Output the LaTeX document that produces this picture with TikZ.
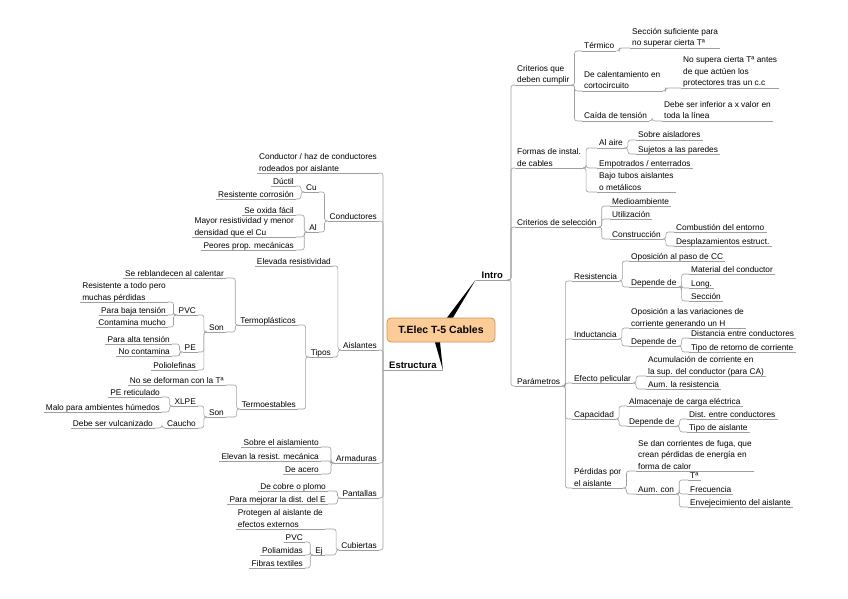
\documentclass[tikz,border=0pt]{standalone}
\usepackage{fontspec}
\setmainfont{Liberation Sans}
\usepackage{xcolor}
\usepackage{tikz}
\usetikzlibrary{calc,positioning}
\definecolor{linegray}{RGB}{158,158,158}
\definecolor{rootFill}{RGB}{252,204,152}
\definecolor{rootEdge}{RGB}{208,146,82}

\tikzset{
  link/.style={draw=linegray, line width=0.6pt, rounded corners=2.5pt},
  toright/.style={link, to path={-- ++(#1,0) |- (\tikztotarget)}},
  toright/.default=3pt,
  toleft/.style={link, to path={-- ++(-#1,0) |- (\tikztotarget)}},
  toleft/.default=3pt,
  trunk/.style={link, to path={|- (\tikztotarget)}},
  topic/.style={font=\fontsize{8.3}{11.5}\selectfont, align=left,
    inner xsep=2pt, inner ysep=1pt, text depth=0.8pt,
    append after command={(\tikzlastnode.south west) edge[link] (\tikzlastnode.south east)}},
  rtopic/.style={topic, anchor=south west},
  ltopic/.style={topic, anchor=south east},
  branch/.style={topic, font=\fontsize{9.5}{11}\selectfont\bfseries, inner xsep=6pt},
  rootbox/.style={draw=rootEdge, fill=rootFill, rounded corners=4pt, line width=0.8pt,
    minimum width=108pt, minimum height=24pt, font=\fontsize{10.5}{12}\selectfont\bfseries},
}

\begin{document}
\begin{tikzpicture}[x=1pt,y=-1pt]
\useasboundingbox (0,0) rectangle (848,599);

% =========================
% 0. root
% =========================
\node[rootbox] (root) at (441,330) {T.Elec T-5 Cables};
\node[branch, anchor=south east] (intro) at (509,280) {Intro};
\node[branch, anchor=south west] (estr) at (383,370) {Estructura};

% thick tapered links
\fill[black] ($(root.north)+(6,0)$) -- (intro.south west) -- ($(root.north)+(12,0)$) -- cycle;
\fill[black] ($(root.south)+(-6,0)$) -- (estr.south east) -- ($(root.south)+(-1,0)$) -- cycle;

% =========================
% 1. intro
% =========================
\node[rtopic] (crit) at (515,85) {Criterios que\\deben cumplir};
\node[rtopic] (termico) at (582,51) {Térmico};
\node[rtopic] (calent) at (582,91) {De calentamiento en\\cortocircuito};
\node[rtopic] (caida) at (582,121) {Caída de tensión};
\node[rtopic] (seccion) at (630,48) {Sección suficiente para\\no superar cierta Tª};
\node[rtopic] (nosupera) at (681,88) {No supera cierta Tª antes\\de que actúen los\\protectores tras un c.c};
\node[rtopic] (inferior) at (662,121) {Debe ser inferior a x valor en\\toda la línea};

\node[rtopic] (formas) at (515,168) {Formas de instal.\\de cables};
\node[rtopic] (alaire) at (597,148) {Al aire};
\node[rtopic] (sobre) at (636,140) {Sobre aisladores};
\node[rtopic] (sujetos) at (636,154) {Sujetos a las paredes};
\node[rtopic] (empot) at (597,168) {Empotrados / enterrados};
\node[rtopic] (bajo) at (597,192) {Bajo tubos aislantes\\o metálicos};

\node[rtopic] (selec) at (515,227) {Criterios de selección};
\node[rtopic] (medio) at (610,206) {Medioambiente};
\node[rtopic] (util) at (610,219) {Utilización};
\node[rtopic] (constr) at (610,239) {Construcción};
\node[rtopic] (combust) at (674,232) {Combustión del entorno};
\node[rtopic] (desplaz) at (674,246) {Desplazamientos estruct.};

\node[rtopic] (param) at (515,386) {Parámetros};
\node[rtopic] (resist) at (572,281) {Resistencia};
\node[rtopic] (oposcc) at (629,261) {Oposición al paso de CC};
\node[rtopic] (depr) at (629,287) {Depende de};
\node[rtopic] (material) at (689,274) {Material del conductor};
\node[rtopic] (longit) at (689,288) {Long.};
\node[rtopic] (secc) at (689,301) {Sección};

\node[rtopic] (induct) at (572,339) {Inductancia};
\node[rtopic] (oposvar) at (629,328) {Oposición a las variaciones de\\corriente generando un H};
\node[rtopic] (depl) at (629,346) {Depende de};
\node[rtopic] (distancia) at (689,338) {Distancia entre conductores};
\node[rtopic] (retorno) at (689,352) {Tipo de retorno de corriente};

\node[rtopic] (pelic) at (572,383) {Efecto pelicular};
\node[rtopic] (acum) at (646,376) {Acumulación de corriente en\\la sup. del conductor (para CA)};
\node[rtopic] (aumres) at (646,389) {Aum. la resistencia};

\node[rtopic] (capac) at (572,419) {Capacidad};
\node[rtopic] (almac) at (627,406) {Almacenaje de carga eléctrica};
\node[rtopic] (depc) at (627,426) {Depende de};
\node[rtopic] (dist) at (687,419) {Dist. entre conductores};
\node[rtopic] (tipoais) at (687,432) {Tipo de aislante};

\node[rtopic] (perdidas) at (572,488) {Pérdidas por\\el aislante};
\node[rtopic] (fuga) at (636,471) {Se dan corrientes de fuga, que\\crean pérdidas de energía en\\forma de calor};
\node[rtopic] (aumcon) at (636,494) {Aum. con};
\node[rtopic] (temp) at (688,480) {Tª};
\node[rtopic] (frec) at (688,494) {Frecuencia};
\node[rtopic] (envej) at (688,507) {Envejecimiento del aislante};

% links of the intro side
\draw (intro.south east) edge[toright=2pt] (crit.south west) edge[toright=2pt] (formas.south west)
  edge[toright=2pt] (selec.south west) edge[toright=2pt] (param.south west);
\draw (crit.south east) edge[toright] (termico.south west) edge[toright] (calent.south west) edge[toright] (caida.south west);
\draw (termico.south east) edge[toright] (seccion.south west);
\draw (calent.south east) edge[toright] (nosupera.south west);
\draw (caida.south east) edge[toright] (inferior.south west);
\draw (formas.south east) edge[toright] (alaire.south west) edge[toright] (empot.south west) edge[toright] (bajo.south west);
\draw (alaire.south east) edge[toright] (sobre.south west) edge[toright] (sujetos.south west);
\draw (selec.south east) edge[toright] (medio.south west) edge[toright] (util.south west) edge[toright] (constr.south west);
\draw (constr.south east) edge[toright] (combust.south west) edge[toright] (desplaz.south west);
\draw (param.south east) edge[toright] (resist.south west) edge[toright] (induct.south west) edge[toright] (pelic.south west)
  edge[toright] (capac.south west) edge[toright] (perdidas.south west);
\draw (resist.south east) edge[toright] (oposcc.south west) edge[toright] (depr.south west);
\draw (depr.south east) edge[toright] (material.south west) edge[toright] (longit.south west) edge[toright] (secc.south west);
\draw (induct.south east) edge[toright] (oposvar.south west) edge[toright] (depl.south west);
\draw (depl.south east) edge[toright] (distancia.south west) edge[toright] (retorno.south west);
\draw (pelic.south east) edge[toright] (acum.south west) edge[toright] (aumres.south west);
\draw (capac.south east) edge[toright] (almac.south west) edge[toright] (depc.south west);
\draw (depc.south east) edge[toright] (dist.south west) edge[toright] (tipoais.south west);
\draw (perdidas.south east) edge[toright] (fuga.south west) edge[toright] (aumcon.south west);
\draw (aumcon.south east) edge[toright] (temp.south west) edge[toright] (frec.south west) edge[toright] (envej.south west);

% =========================
% 2. estructura
% =========================
\node[ltopic] (condhaz) at (379,173) {Conductor / haz de conductores\\rodeados por aislante};
\node[ltopic] (conduct) at (379,221) {Conductores};
\node[ltopic] (cu) at (319,192) {Cu};
\node[ltopic] (ductil) at (296,186) {Dúctil};
\node[ltopic] (rescorr) at (296,199) {Resistente corrosión};
\node[ltopic] (al) at (319,232) {Al};
\node[ltopic] (oxida) at (296,215) {Se oxida fácil};
\node[ltopic] (mayor) at (296,237) {Mayor resistividad y menor\\densidad que el Cu};
\node[ltopic] (peores) at (296,250) {Peores prop. mecánicas};

\node[ltopic] (aislan) at (379,350) {Aislantes};
\node[ltopic] (elevada) at (333,266) {Elevada resistividad};
\node[ltopic] (tipos) at (333,357) {Tipos};
\node[ltopic] (termopl) at (298,325) {Termoplásticos};
\node[ltopic] (rebland) at (226,278) {Se reblandecen al calentar};
\node[ltopic] (son1) at (226,332) {Son};
\node[ltopic] (pvc) at (198,315) {PVC};
\node[ltopic] (restodo) at (168,302) {Resistente a todo pero\\muchas pérdidas};
\node[ltopic] (parabaja) at (168,315) {Para baja tensión};
\node[ltopic] (contam) at (168,327) {Contamina mucho};
\node[ltopic] (pe) at (198,352) {PE};
\node[ltopic] (paraalta) at (172,344) {Para alta tensión};
\node[ltopic] (nocont) at (172,356) {No contamina};
\node[ltopic] (poliol) at (198,370) {Poliolefinas};

\node[ltopic] (termoest) at (298,409) {Termoestables};
\node[ltopic] (nodef) at (226,385) {No se deforman con la Tª};
\node[ltopic] (son2) at (226,417) {Son};
\node[ltopic] (xlpe) at (198,406) {XLPE};
\node[ltopic] (petic) at (162,397) {PE reticulado};
\node[ltopic] (malo) at (162,412) {Malo para ambientes húmedos};
\node[ltopic] (caucho) at (198,428) {Caucho};
\node[ltopic] (vulcan) at (155,428) {Debe ser vulcanizado};

\node[ltopic] (armad) at (379,463) {Armaduras};
\node[ltopic] (sobreais) at (321,447) {Sobre el aislamiento};
\node[ltopic] (elevan) at (321,461) {Elevan la resist. mecánica};
\node[ltopic] (acero) at (321,474) {De acero};

\node[ltopic] (pantal) at (379,498) {Pantallas};
\node[ltopic] (cobre) at (328,491) {De cobre o plomo};
\node[ltopic] (mejorar) at (328,504) {Para mejorar la dist. del E};

\node[ltopic] (cubier) at (379,550) {Cubiertas};
\node[ltopic] (protegen) at (325,529) {Protegen al aislante de\\efectos externos};
\node[ltopic] (ej) at (325,555) {Ej};
\node[ltopic] (pvcb) at (305,542) {PVC};
\node[ltopic] (poliam) at (305,555) {Poliamidas};
\node[ltopic] (fibras) at (305,568) {Fibras textiles};

% links of the estructura side
\draw (estr.south west) edge[trunk] (condhaz.south east) edge[trunk] (conduct.south east) edge[trunk] (aislan.south east)
  edge[trunk] (armad.south east) edge[trunk] (pantal.south east) edge[trunk] (cubier.south east);
\draw (conduct.south west) edge[toleft] (cu.south east) edge[toleft] (al.south east);
\draw (cu.south west) edge[toleft] (ductil.south east) edge[toleft] (rescorr.south east);
\draw (al.south west) edge[toleft] (oxida.south east) edge[toleft] (mayor.south east) edge[toleft] (peores.south east);
\draw (aislan.south west) edge[toleft] (elevada.south east) edge[toleft] (tipos.south east);
\draw (tipos.south west) edge[toleft] (termopl.south east) edge[toleft] (termoest.south east);
\draw (termopl.south west) edge[toleft] (rebland.south east) edge[toleft] (son1.south east);
\draw (son1.south west) edge[toleft] (pvc.south east) edge[toleft] (pe.south east) edge[toleft] (poliol.south east);
\draw (pvc.south west) edge[toleft] (restodo.south east) edge[toleft] (parabaja.south east) edge[toleft] (contam.south east);
\draw (pe.south west) edge[toleft] (paraalta.south east) edge[toleft] (nocont.south east);
\draw (termoest.south west) edge[toleft] (nodef.south east) edge[toleft] (son2.south east);
\draw (son2.south west) edge[toleft] (xlpe.south east) edge[toleft] (caucho.south east);
\draw (xlpe.south west) edge[toleft] (petic.south east) edge[toleft] (malo.south east);
\draw (caucho.south west) edge[toleft] (vulcan.south east);
\draw (armad.south west) edge[toleft] (sobreais.south east) edge[toleft] (elevan.south east) edge[toleft] (acero.south east);
\draw (pantal.south west) edge[toleft] (cobre.south east) edge[toleft] (mejorar.south east);
\draw (cubier.south west) edge[toleft] (protegen.south east) edge[toleft] (ej.south east);
\draw (ej.south west) edge[toleft] (pvcb.south east) edge[toleft] (poliam.south east) edge[toleft] (fibras.south east);

\end{tikzpicture}
\end{document}
